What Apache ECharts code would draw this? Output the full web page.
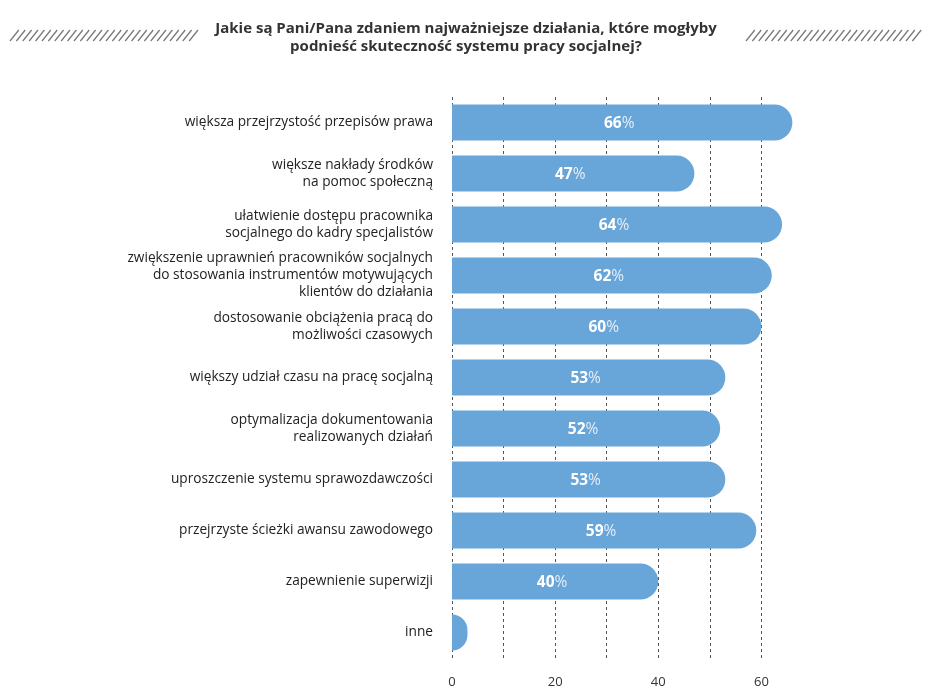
<!DOCTYPE html>
<html>
<head>
<meta charset="utf-8">
<script src="https://cdn.jsdelivr.net/npm/echarts@6/dist/echarts.min.js"></script>
<style>
  html, body { margin: 0; padding: 0; background: #ffffff; }
  #chart { width: 928px; height: 689px; }
</style>
</head>
<body>
<div id="chart"></div>
<script>
// Survey answers, in display order (top to bottom)
const categories = [
  'większa przejrzystość przepisów prawa',
  'większe nakłady środków\nna pomoc społeczną',
  'ułatwienie dostępu pracownika\nsocjalnego do kadry specjalistów',
  'zwiększenie uprawnień pracowników socjalnych\ndo stosowania instrumentów motywujących\nklientów do działania',
  'dostosowanie obciążenia pracą do\nmożliwości czasowych',
  'większy udział czasu na pracę socjalną',
  'optymalizacja dokumentowania\nrealizowanych działań',
  'uproszczenie systemu sprawozdawczości',
  'przejrzyste ścieżki awansu zawodowego',
  'zapewnienie superwizji',
  'inne'
];
// Share of respondents (%)
const values = [66, 47, 64, 62, 60, 53, 52, 53, 59, 40, 3];
// Categories whose value is not printed on the bar
const unlabeled = ['inne'];
// Values shown under the axis
const tickLabels = [0, 20, 40, 60];

const titleLines = [
  'Jakie są Pani/Pana zdaniem najważniejsze działania, które mogłyby',
  'podnieść skuteczność systemu pracy socjalnej?'
];

const BAR_COLOR = '#68a5d9';
const FONT = '"Open Sans", "Noto Sans", sans-serif';

// Diagonal hatch strips flanking the title
function hatch(x0, x1, y0, y1, step) {
  const lines = [];
  for (let x = x0; x <= x1; x += step) {
    lines.push({
      type: 'line',
      shape: { x1: x, y1: y1, x2: x + (y1 - y0) * 0.8, y2: y0 },
      style: { stroke: '#7a7a7a', lineWidth: 1.3 },
      silent: true
    });
  }
  return lines;
}

const chart = echarts.init(document.getElementById('chart'), null, { renderer: 'canvas' });

chart.setOption({
  backgroundColor: '#ffffff',
  animation: false,
  title: {
    text: titleLines.join('\n'),
    left: 461,
    textAlign: 'center',
    top: 15,
    textStyle: {
      fontFamily: FONT,
      fontSize: 15,
      fontWeight: 700,
      color: '#333333',
      lineHeight: 18
    }
  },
  graphic: [].concat(hatch(10, 190, 30, 41, 6.4), hatch(746, 915, 30, 41, 6.4)),
  grid: {
    left: 452,
    right: 115,
    top: 97,
    bottom: 26,
    containLabel: false
  },
  xAxis: {
    type: 'value',
    min: 0,
    max: 70,
    interval: 10,
    axisLine: { show: false },
    axisTick: { show: false },
    axisLabel: {
      showMaxLabel: false,
      margin: 18,
      fontFamily: FONT,
      fontSize: 13,
      color: '#333333',
      formatter: v => (tickLabels.indexOf(v) >= 0 ? String(v) : '')
    },
    splitLine: {
      show: true,
      showMinLine: true,
      showMaxLine: false,
      lineStyle: { color: '#555555', width: 1, type: [3, 3] }
    }
  },
  yAxis: {
    type: 'category',
    inverse: true,
    data: categories,
    axisLine: { show: false },
    axisTick: { show: false },
    axisLabel: {
      margin: 19,
      padding: [6, 0, 0, 0],
      fontFamily: FONT,
      fontSize: 13.7,
      lineHeight: 17,
      color: '#222222',
      align: 'right'
    }
  },
  series: [{
    type: 'bar',
    data: values.map((v, i) => ({
      value: v,
      label: { show: unlabeled.indexOf(categories[i]) < 0 }
    })),
    barWidth: 36,
    itemStyle: {
      color: BAR_COLOR,
      borderRadius: [0, 18, 18, 0]
    },
    label: {
      position: 'inside',
      offset: [-3, 1],
      formatter: p => '{b|' + p.value + '}{p|%}',
      rich: {
        b: { fontFamily: FONT, fontSize: 15.5, fontWeight: 700, color: '#ffffff' },
        p: { fontFamily: FONT, fontSize: 15.5, fontWeight: 400, color: '#e4eef8' }
      }
    }
  }]
});
</script>
</body>
</html>
